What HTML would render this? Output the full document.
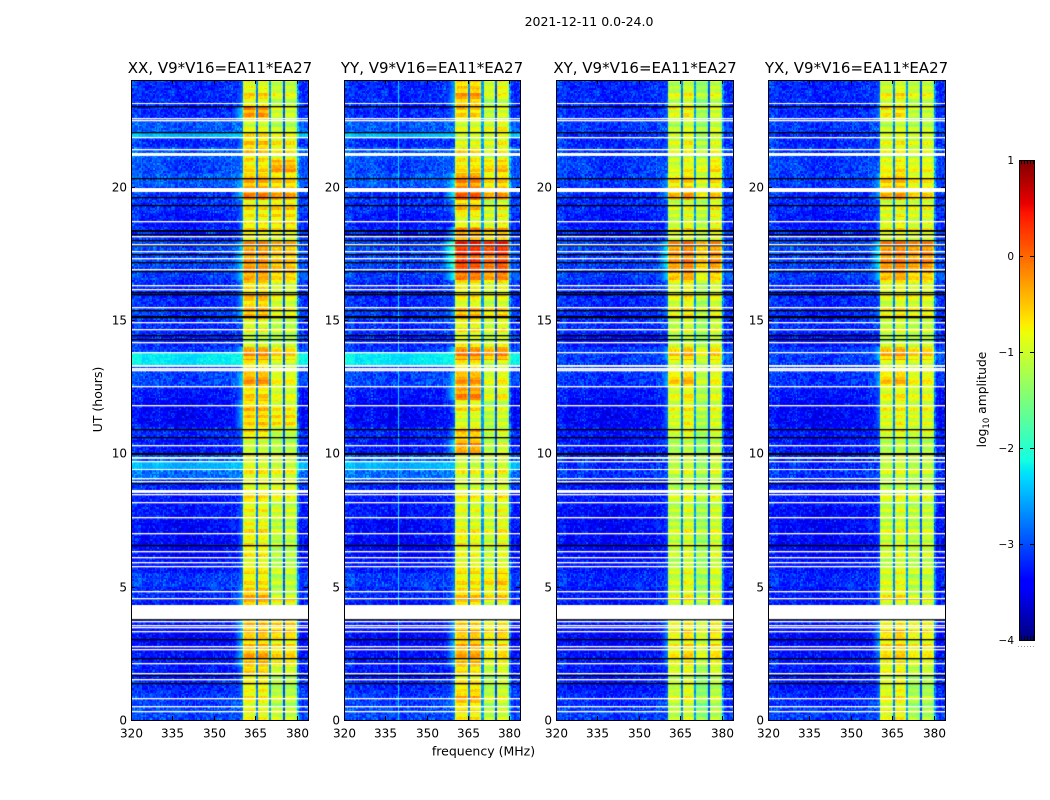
<!DOCTYPE html>
<html>
<head>
<meta charset="utf-8">
<title>2021-12-11 spectrograms</title>
<style>
html,body{margin:0;padding:0;background:#fff;width:1050px;height:800px;overflow:hidden}
#stage{position:relative;width:1050px;height:800px}
canvas{position:absolute;display:block}
svg{position:absolute;left:0;top:0}
text{font-family:"DejaVu Sans","Liberation Sans",sans-serif;fill:#000}
</style>
</head>
<body>
<div id="stage">
<canvas id="hm0" width="177" height="640" style="left:131px;top:80px"></canvas>
<canvas id="hm1" width="176" height="640" style="left:344px;top:80px"></canvas>
<canvas id="hm2" width="177" height="640" style="left:556px;top:80px"></canvas>
<canvas id="hm3" width="177" height="640" style="left:768px;top:80px"></canvas>
<canvas id="cbar" width="15" height="480" style="left:1019px;top:160px"></canvas>
<svg id="overlay" width="1050" height="800" xmlns="http://www.w3.org/2000/svg">
<text x="589" y="26" text-anchor="middle" font-size="12.5">2021-12-11 0.0-24.0</text>
<text x="220" y="73" text-anchor="middle" font-size="15">XX, V9*V16=EA11*EA27</text>
<text x="432" y="73" text-anchor="middle" font-size="15">YY, V9*V16=EA11*EA27</text>
<text x="645" y="73" text-anchor="middle" font-size="15">XY, V9*V16=EA11*EA27</text>
<text x="856.5" y="73" text-anchor="middle" font-size="15">YX, V9*V16=EA11*EA27</text>
<text transform="translate(102,399.5) rotate(-90)" text-anchor="middle" font-size="12.5">UT (hours)</text>
<text x="483.5" y="755.5" text-anchor="middle" font-size="12.5">frequency (MHz)</text>
<text transform="translate(986,399.5) rotate(-90)" text-anchor="middle" font-size="12.3">log<tspan dy="3" font-size="8.5">10</tspan><tspan dy="-3"> amplitude</tspan></text>
</svg>
</div>
<script>
// ---- axis data ----
const freqTicks = [320, 335, 350, 365, 380];
const timeTicks = [0, 5, 10, 15, 20];
const colorTicks = [1, 0, -1, -2, -3, -4];
const colorTickLabels = ['1', '0', '\u22121', '\u22122', '\u22123', '\u22124'];
const panelNames = ['xx', 'yy', 'xy', 'yx'];

// ---- in-band level (log10 amplitude) per half hour, 0h upward; low = 360-370 MHz, high = 370-380 MHz ----
const xxLow = [-.8,-.8,-.7,-.7,-.4,-.5,-.5,-.4,-.4,-.5,-.7,-.8,-.8,-.8,-.8,-.8,-.8,-.8,-.8,-.9,-1,-.7,-.5,-.5,-.7,-.3,-.7,-.3,-1.1,-.9,-.4,-.5,-.6,-.25,-.2,-.3,-.7,-.7,-.7,-.3,-.4,-.7,-.6,-.6,-1,-.3,-.7,-.8];
const xxHigh = [-1,-1.1,-1.1,-1.1,-.7,-.7,-.6,-.5,-.7,-1.1,-1.1,-1.1,-1.2,-1.1,-1.1,-1,-1,-.8,-.9,-1,-1.1,-1.1,-.6,-.8,-1,-.8,-1,-.6,-1.2,-1.1,-.8,-.9,-.9,-.5,-.45,-.5,-.8,-.6,-.6,-.5,-.6,-.4,-.8,-.8,-1.2,-1,-1,-1];
const yyLow = [-.7,-.5,-.6,-.8,-.4,-.4,-.5,-.5,-.5,-.6,-.7,-.8,-.9,-.8,-.9,-.9,-.9,-.9,-.9,-1,-.3,-.5,-.9,-.7,-.3,-.3,-.7,-.2,-.9,-.8,-.4,-.8,-.7,0,.25,.3,-.3,-.8,-.5,-.1,-.2,-.7,-.7,-1,-1,-.6,-.4,-.5];
const yyHigh = [-1,-1,-1,-1.1,-.8,-.7,-.6,-.7,-.8,-.7,-.6,-.9,-1,-.9,-.9,-.9,-.9,-.9,-.9,-1,-1,-1,-1,-1,-.9,-.8,-1,-.3,-1,-.9,-.6,-.9,-.8,-.1,.1,.25,-.5,-.8,-.9,-.5,-.6,-.6,-.9,-.9,-.9,-1,-1,-.8];
const xyLow = [-1,-.9,-.9,-1,-.7,-.7,-.7,-.7,-.8,-.9,-.9,-1,-1,-1,-1,-1,-1,-1,-1,-1,-1.1,-.9,-.8,-.8,-.9,-.5,-.9,-.5,-1.1,-1,-.7,-.8,-.8,-.3,-.1,-.2,-.8,-.9,-.9,-.5,-.6,-.9,-.9,-.9,-1.1,-.8,-.9,-1];
const xyHigh = [-1.2,-1.2,-1.2,-1.2,-.9,-.8,-.8,-.8,-.9,-1.1,-1.1,-1.1,-1.1,-1.1,-1.1,-1.1,-1.1,-1.1,-1.1,-1.1,-1.2,-1.1,-1,-1,-1.1,-.9,-1,-.7,-1.2,-1.1,-.9,-1,-1,-.6,-.3,-.4,-.9,-.9,-.9,-.8,-.8,-.8,-1,-1.1,-1.2,-1.1,-1.1,-1.1];
const yxLow = [-.8,-.8,-.8,-.9,-.7,-.6,-.6,-.7,-.8,-.8,-.9,-1,-1,-1,-1,-1,-1,-1,-1,-1,-1.1,-.9,-.8,-.8,-.9,-.5,-.9,-.4,-1.1,-1,-.7,-.9,-.8,-.3,-.1,-.2,-.8,-.8,-.9,-.5,-.5,-.8,-.9,-.9,-1.1,-.7,-.8,-.9];
const yxHigh = [-1.2,-1.2,-1.2,-1.2,-.9,-.8,-.8,-.8,-.9,-1.1,-1.1,-1.1,-1.1,-1.1,-1.1,-1.1,-1.1,-1.1,-1.1,-1.1,-1.2,-1,-.9,-.9,-1,-.8,-1,-.6,-1.2,-1.1,-.8,-.9,-.9,-.5,-.2,-.3,-.9,-.9,-.9,-.8,-.8,-.9,-1,-1,-1.2,-1.1,-1,-1];

// ---- sub-band offsets per panel (360-365, 365-370, 370-375, 375-380) ----
const xxSubOffset = [0, 0, 0, 0];
const yySubOffset = [0, 0, -0.1, 0.05];
const xySubOffset = [-0.1, 0.05, -0.15, 0.1];
const yxSubOffset = [-0.05, 0.05, 0, 0.05];

// ---- out-of-band level per half hour ----
const coQuiet = [-3.05,-3.1,-3.2,-3.3,-3.3,-3.4,-3.4,-3.3,-3.3,-3.2,-3.1,-3.3,-3.4,-3.4,-3.4,-3.3,-3.3,-3.2,-2.85,-2.95,-3.3,-3.2,-3.4,-3.4,-3.3,-3.05,-3.1,-3.1,-3.2,-3.2,-3.1,-3.2,-3.2,-3.1,-3.05,-3.05,-3.2,-3.3,-3.15,-3.15,-2.95,-3.05,-2.95,-3.2,-2.95,-3.2,-3.2,-3.2];
const crossQuiet = [-3.1,-3.2,-3.3,-3.3,-3.3,-3.4,-3.4,-3.3,-3.3,-3.3,-3.2,-3.3,-3.4,-3.4,-3.4,-3.4,-3.3,-3.3,-3.15,-3.2,-3.3,-3.3,-3.4,-3.4,-3.3,-3.15,-3.1,-3.1,-3.3,-3.2,-3.2,-3.2,-3.2,-3.1,-3.1,-3.05,-3.2,-3.3,-3.2,-3.2,-3.1,-3.1,-3.1,-3.2,-3.1,-3.2,-3.2,-3.2];
// bright co-polar intervals: start hour, end hour, level
const coBrightStart = [13.3, 21.85, 9.42];
const coBrightEnd = [13.8, 22.0, 9.72];
const coBrightLevel = [-2.25, -2.45, -2.5];
// offsets for each 4 MHz step from 320 to 360 MHz
const quietFreqOffset = [0.12, 0, 0.05, 0, -0.05, -0.05, 0, 0.03, 0.03, 0.1];
const speckle = [.12,-.22,.31,-.08,-.27,.05,.38,-.15,.02,-.31,.19,-.05,.26,-.19,.09,-.34,.44,-.11,.07,-.25,.16,-.02,-.29,.23,.55,-.17,.03,-.36,.11,-.07,.29,-.21,.14,-.3,.06,-.12,.34,-.24,.01,.2,-.16];
const stripes = [.12,-.16,.2,-.06,-.24,.08,.26,-.12,.04,-.2,.16,-.04,-.18,.22,.06,-.14,.1,-.26,.18,.02,-.1,.24,-.2,.05,-.08,.28,-.15,.09,-.22];

// ---- flagged intervals in hours: start, end ----
const whiteStart = [23.09,22.52,22.45,21.81,21.38,21.17,19.80,18.68,18.09,17.79,17.52,17.27,16.88,16.26,16.13,15.44,14.86,14.61,14.14,13.74,13.24,13.13,13.06,12.48,11.78,10.28,9.80,9.66,9.39,9.03,8.91,8.52,8.42,8.12,7.58,6.98,6.28,6.08,5.86,5.71,4.77,4.54,3.78,3.66,3.52,3.42,3.29,2.73,2.63,2.07,1.73,1.50,0.76,0.48,0.27];
const whiteEnd = [23.13,22.57,22.50,21.86,21.43,21.28,19.95,18.73,18.14,17.84,17.57,17.32,16.93,16.31,16.18,15.49,14.91,14.66,14.19,13.79,13.31,13.20,13.11,12.53,11.83,10.33,9.87,9.71,9.43,9.08,8.96,8.63,8.47,8.17,7.63,7.03,6.33,6.13,5.91,5.76,4.82,4.59,4.31,3.71,3.57,3.47,3.34,2.78,2.68,2.12,1.78,1.55,0.81,0.53,0.32];
const blackStart = [22.99,22.00,20.29,19.58,19.28,18.29,18.16,17.94,17.77,17.42,17.11,16.79,16.01,15.94,15.31,15.10,15.05,14.37,14.23,10.88,10.58,9.93,8.82,6.52,4.51,3.73,2.98,2.28,1.64,1.32];
const blackEnd = [23.04,22.05,20.34,19.63,19.33,18.36,18.21,17.99,17.82,17.47,17.16,16.84,16.06,15.99,15.36,15.15,15.10,14.42,14.28,10.93,10.63,10.01,8.87,6.57,4.56,3.78,3.03,2.33,1.69,1.37];

// ---- colormap stops ----
const jetRedPos = [0, 0.35, 0.66, 0.89, 1];
const jetRedVal = [0, 0, 1, 1, 0.5];
const jetGreenPos = [0, 0.125, 0.375, 0.64, 0.91, 1];
const jetGreenVal = [0, 0, 1, 1, 0, 0];
const jetBluePos = [0, 0.11, 0.34, 0.65, 1];
const jetBlueVal = [0.5, 1, 1, 0, 0];

const bandLow = [xxLow, yyLow, xyLow, yxLow];
const bandHigh = [xxHigh, yyHigh, xyHigh, yxHigh];
const subOffsets = [xxSubOffset, yySubOffset, xySubOffset, yxSubOffset];

const FREQ_MIN = 320, FREQ_MAX = 384, HOURS = 24, PLOT_H = 640, PLOT_TOP = 80;
const panelLeft = [131, 344, 556, 768];
const panelWidth = [177, 176, 177, 177];

function timeToY(t) { return PLOT_H - t * PLOT_H / HOURS; }
function freqToX(f, w) { return (f - FREQ_MIN) * w / (FREQ_MAX - FREQ_MIN); }

function piece(x, pos, val) {
  for (let i = 1; i < pos.length; i++) {
    if (x <= pos[i]) {
      return val[i - 1] + (val[i] - val[i - 1]) * (x - pos[i - 1]) / (pos[i] - pos[i - 1]);
    }
  }
  return val[val.length - 1];
}
function jet(v) {
  const x = Math.max(0, Math.min(1, (v + 4) / 5));
  return [
    Math.round(255 * piece(x, jetRedPos, jetRedVal)),
    Math.round(255 * piece(x, jetGreenPos, jetGreenVal)),
    Math.round(255 * piece(x, jetBluePos, jetBlueVal))
  ];
}

function cellValue(p, t, f, row, ch) {
  const bin = Math.min(47, Math.floor(t * 2));
  const co = p < 2;
  const g = speckle[(ch * 31 + row * 17 + ((ch * row) % 13) * 7) % speckle.length];
  const low = bandLow[p][bin];
  const high = bandHigh[p][bin];
  let quiet = (co ? coQuiet : crossQuiet)[bin];
  let grainScale = 0.8;
  if (co) {
    for (let i = 0; i < coBrightStart.length; i++) {
      if (t >= coBrightStart[i] && t < coBrightEnd[i]) {
        quiet = coBrightLevel[i];
        grainScale = 0.3;
      }
    }
  }
  const rippleVal = stripes[Math.floor(t / 0.13) % stripes.length];
  if (f >= 360.4 && f < 380) {
    if (f >= 365.1 && f < 365.9) return -2.75 + g * 0.4;
    if (f >= 370.0 && f < 370.8) return -2.6 + g * 0.4;
    if (f >= 375.0 && f < 375.8) return -3.0 + g * 0.4;
    const sub = Math.min(3, Math.floor((f - 360.4) / 4.9));
    const lvl = sub < 2 ? low : high;
    const start = 360.4 + 4.9 * sub;
    const d = Math.min(f - start, start + 4.7 - f);
    const roll = d < 0.7 ? 0.35 * (1 - Math.max(d, 0) / 0.7) : 0;
    return lvl + subOffsets[p][sub] + rippleVal + g * 0.32 - roll;
  }
  if (f >= 380) {
    const edge = f < 380.7 ? 0.5 : 0.05;
    return quiet + edge + g * grainScale;
  }
  let v = quiet + quietFreqOffset[Math.min(9, Math.floor((f - 320) / 4))] + g * grainScale;
  if (p === 1 && f > 339.5 && f < 340) v = Math.max(v, -2.3);
  if (f > 352) {
    const leak = low - 2.0 - (360.4 - f) * 0.25;
    if (leak > v) v = leak + g * 0.3;
  }
  return v;
}

function drawPanel(p) {
  const cv = document.getElementById('hm' + p);
  const w = panelWidth[p];
  const ctx = cv.getContext('2d');
  const img = ctx.createImageData(w, PLOT_H);
  for (let py = 0; py < PLOT_H; py++) {
    const t = (PLOT_H - 0.5 - py) * HOURS / PLOT_H;
    const row = Math.floor(t / 0.06);
    for (let px = 0; px < w; px++) {
      const f = FREQ_MIN + (px + 0.5) * (FREQ_MAX - FREQ_MIN) / w;
      const ch = Math.floor((f - FREQ_MIN) / 0.5);
      const c = jet(cellValue(p, t, f, row, ch));
      const o = (py * w + px) * 4;
      img.data[o] = c[0];
      img.data[o + 1] = c[1];
      img.data[o + 2] = c[2];
      img.data[o + 3] = 255;
    }
  }
  ctx.putImageData(img, 0, 0);
  ctx.fillStyle = '#000';
  for (let i = 0; i < blackStart.length; i++) {
    ctx.fillRect(0, Math.round(timeToY(blackEnd[i])), w, timeToY(blackStart[i]) - timeToY(blackEnd[i]));
  }
  ctx.fillStyle = '#fff';
  for (let i = 0; i < whiteStart.length; i++) {
    ctx.fillRect(0, Math.round(timeToY(whiteEnd[i])), w, timeToY(whiteStart[i]) - timeToY(whiteEnd[i]));
  }
}
for (let p = 0; p < 4; p++) drawPanel(p);

// colorbar gradient
(function () {
  const cv = document.getElementById('cbar');
  const ctx = cv.getContext('2d');
  for (let py = 0; py < 480; py++) {
    const c = jet(1 - (py + 0.5) / 480 * 5);
    ctx.fillStyle = 'rgb(' + c[0] + ',' + c[1] + ',' + c[2] + ')';
    ctx.fillRect(0, py, 15, 1);
  }
})();

// axes
const svg = document.getElementById('overlay');
const NS = 'http://www.w3.org/2000/svg';
function addLine(parent, x1, y1, x2, y2, stroke) {
  const l = document.createElementNS(NS, 'line');
  l.setAttribute('x1', x1);
  l.setAttribute('y1', y1);
  l.setAttribute('x2', x2);
  l.setAttribute('y2', y2);
  l.setAttribute('stroke', stroke || '#000');
  l.setAttribute('stroke-width', '1');
  parent.appendChild(l);
  return l;
}
function addText(parent, x, y, str, anchor, size) {
  const e = document.createElementNS(NS, 'text');
  e.setAttribute('x', x);
  e.setAttribute('y', y);
  e.setAttribute('text-anchor', anchor);
  e.setAttribute('font-size', size);
  e.textContent = str;
  parent.appendChild(e);
  return e;
}
for (let p = 0; p < 4; p++) {
  const g = document.createElementNS(NS, 'g');
  
  
  svg.appendChild(g);
  const L = panelLeft[p], W = panelWidth[p];
  const frame = document.createElementNS(NS, 'rect');
  frame.setAttribute('x', L + 0.5);
  frame.setAttribute('y', PLOT_TOP + 0.5);
  frame.setAttribute('width', W);
  frame.setAttribute('height', PLOT_H);
  frame.setAttribute('fill', 'none');
  frame.setAttribute('stroke', '#000');
  frame.setAttribute('stroke-width', '1');
  
  
  g.appendChild(frame);
  freqTicks.forEach(function (f) {
    const x = Math.round(L + freqToX(f, W)) + 0.5;
    addLine(g, x, PLOT_TOP + PLOT_H, x, PLOT_TOP + PLOT_H - 4);
    addLine(g, x, PLOT_TOP, x, PLOT_TOP + 4);
    const lab = addText(g, x, 737.5, String(f), 'middle', 12);
    
    
  });
  timeTicks.forEach(function (t) {
    const y = Math.round(PLOT_TOP + timeToY(t)) + 0.5;
    addLine(g, L, y, L + 4, y);
    addLine(g, L + W, y, L + W - 4, y);
    const lab = addText(g, L - 4, y + 4, String(t), 'end', 12);
    
    
  });
}

// colorbar axis
(function () {
  const g = document.createElementNS(NS, 'g');
  
  
  svg.appendChild(g);
  const frame = document.createElementNS(NS, 'rect');
  frame.setAttribute('x', 1019.5);
  frame.setAttribute('y', 160.5);
  frame.setAttribute('width', 15);
  frame.setAttribute('height', 480);
  frame.setAttribute('fill', 'none');
  frame.setAttribute('stroke', '#000');
  frame.setAttribute('stroke-width', '1');
  
  
  g.appendChild(frame);
  colorTicks.forEach(function (v, i) {
    const y = Math.round(160 + (1 - v) / 5 * 480) + 0.5;
    if (i > 0 && i < colorTicks.length - 1) {
      addLine(g, 1019, y, 1023, y);
      addLine(g, 1034, y, 1030, y);
    }
    const lab = addText(g, 1014, y + 3.5, colorTickLabels[i], 'end', 10.5);
    
    
  });
  [1021, 1024, 1027, 1030, 1033].forEach(function (x) {
    addLine(g, x + 0.5, 160, x + 0.5, 164);
    addLine(g, x + 0.5, 640, x + 0.5, 636);
  });
  [1018, 1021, 1024, 1027, 1030, 1033].forEach(function (x) {
    const d = document.createElementNS(NS, 'rect');
    d.setAttribute('x', x);
    d.setAttribute('y', 646);
    d.setAttribute('width', 1);
    d.setAttribute('height', 1);
    d.setAttribute('fill', '#999');
    g.appendChild(d);
  });
})();
</script>
</body>
</html>
